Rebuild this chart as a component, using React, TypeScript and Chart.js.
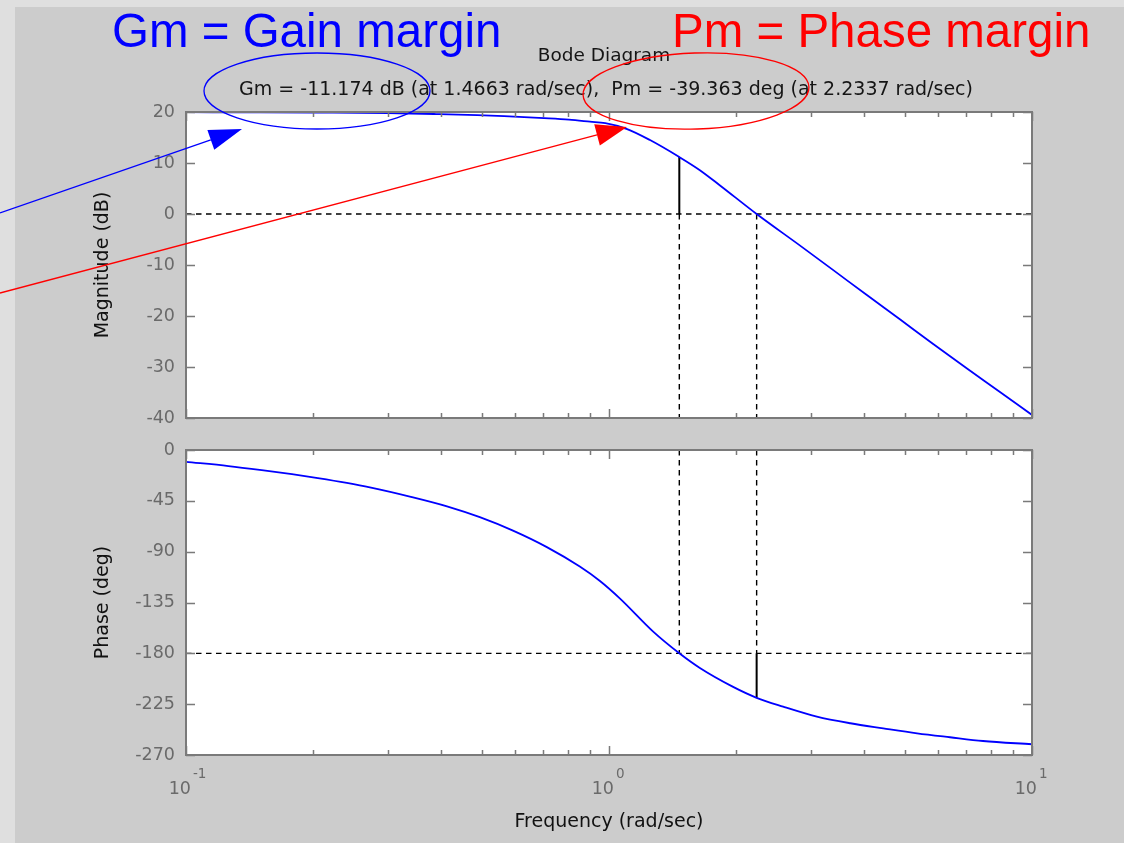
import React, { useEffect, useRef } from 'react';
import { Chart, registerables } from 'chart.js';

Chart.register(...registerables);

// ---------- data ----------
const magFreq = [0.1, 0.15, 0.2, 0.3, 0.39, 0.488, 0.565, 0.702, 0.804, 0.902, 0.98, 1.1, 1.25, 1.4663, 1.64, 1.83, 2.2337, 2.83, 3.39, 4.07, 4.88, 5.84, 7.02, 8.4, 10];
const magnitudeDb = [19.96, 19.93, 19.88, 19.78, 19.6, 19.4, 19.2, 18.8, 18.5, 18.1, 17.8, 16.7, 14.5, 11.174, 8.6, 5.6, 0, -6.2, -11.0, -15.9, -20.7, -25.5, -30.3, -34.9, -39.4];

const phaseFreq = [0.1, 0.126, 0.151, 0.178, 0.205, 0.24, 0.272, 0.342, 0.414, 0.495, 0.593, 0.713, 0.853, 0.952, 1.062, 1.27, 1.4663, 1.64, 1.96, 2.2337, 2.58, 3.1, 3.72, 4.45, 5.35, 6.4, 7.66, 10];
const phaseDeg = [-10.5, -14.2, -17.8, -21.4, -24.9, -29.2, -33.1, -41.7, -49.9, -59.5, -71.4, -86.0, -103.2, -116.0, -131.6, -160.6, -180, -193.0, -209.5, -219.36, -227.2, -236, -241.9, -246.4, -250.8, -254.3, -257.6, -260.5];

const gainMarginFreq = 1.4663;
const gainMarginDb = -11.174;
const phaseMarginFreq = 2.2337;
const phaseMarginDeg = -39.363;

const magAxis = { min: -40, max: 20, step: 10 };
const phaseAxis = { min: -270, max: 0, step: 45 };
const freqAxis = { min: 0.1, max: 10 };
const xMajorTicks = [0.1, 1, 10];
const xMajorExponents = ['-1', '0', '1'];
const xMinorTicks = [0.2, 0.3, 0.4, 0.5, 0.6, 0.7, 0.8, 0.9, 2, 3, 4, 5, 6, 7, 8, 9];

const plotTitle = 'Bode Diagram';
const marginText = 'Gm = -11.174 dB (at 1.4663 rad/sec),  Pm = -39.363 deg (at 2.2337 rad/sec)';
const gmHeadline = 'Gm = Gain margin';
const pmHeadline = 'Pm = Phase margin';

// ---------- styles ----------
const MFONT = '"DejaVu Sans", "Liberation Sans", sans-serif';
const TICK_COLOR = '#6a6a6a';
const FRAME_COLOR = '#7a7a7a';
const DASH = [5.5, 4.5];

const axesBoxPlugin = {
  id: 'axesBox',
  beforeDraw(chart: any) {
    const { ctx, chartArea: a } = chart;
    ctx.save();
    ctx.fillStyle = '#ffffff';
    ctx.fillRect(a.left, a.top, a.right - a.left, a.bottom - a.top);
    ctx.restore();
  },
  afterDatasetsDraw(chart: any) {
    const { ctx, chartArea: a, scales } = chart;
    ctx.save();
    ctx.strokeStyle = FRAME_COLOR;
    ctx.lineWidth = 1.5;
    ctx.beginPath();
    scales.y.ticks.forEach((t: any) => {
      const y = Math.round(scales.y.getPixelForValue(t.value)) + 0.5;
      ctx.moveTo(a.left, y); ctx.lineTo(a.left + 9, y);
      ctx.moveTo(a.right, y); ctx.lineTo(a.right - 9, y);
    });
    xMajorTicks.forEach((v) => {
      const x = Math.round(scales.x.getPixelForValue(v)) + 0.5;
      ctx.moveTo(x, a.top); ctx.lineTo(x, a.top + 9);
      ctx.moveTo(x, a.bottom); ctx.lineTo(x, a.bottom - 9);
    });
    xMinorTicks.forEach((v) => {
      const x = Math.round(scales.x.getPixelForValue(v)) + 0.5;
      ctx.moveTo(x, a.top); ctx.lineTo(x, a.top + 5);
      ctx.moveTo(x, a.bottom); ctx.lineTo(x, a.bottom - 5);
    });
    ctx.stroke();
    ctx.lineWidth = 2;
    ctx.strokeRect(a.left, a.top, a.right - a.left, a.bottom - a.top);
    ctx.restore();
  },
};

const freqLabelsPlugin = {
  id: 'freqLabels',
  afterDraw(chart: any) {
    const { ctx, chartArea: a, scales } = chart;
    ctx.save();
    ctx.fillStyle = TICK_COLOR;
    ctx.textBaseline = 'alphabetic';
    xMajorTicks.forEach((v, i) => {
      const x = scales.x.getPixelForValue(v);
      ctx.font = `17.5px ${MFONT}`;
      ctx.textAlign = 'right';
      ctx.fillText('10', x + 5, a.bottom + 39);
      ctx.font = `13.5px ${MFONT}`;
      ctx.textAlign = 'left';
      ctx.fillText(xMajorExponents[i], x + 7, a.bottom + 23);
    });
    ctx.restore();
  },
};

function arrow(ctx: CanvasRenderingContext2D, x0: number, y0: number, x1: number, y1: number, color: string, headLen: number, headHalf: number) {
  const dx = x1 - x0, dy = y1 - y0;
  const len = Math.hypot(dx, dy);
  const ux = dx / len, uy = dy / len;
  const nx = -uy, ny = ux;
  const bx = x1 - ux * headLen, by = y1 - uy * headLen;
  ctx.strokeStyle = color;
  ctx.fillStyle = color;
  ctx.lineWidth = 1.3;
  ctx.beginPath();
  ctx.moveTo(x0, y0);
  ctx.lineTo(bx, by);
  ctx.stroke();
  ctx.beginPath();
  ctx.moveTo(x1, y1);
  ctx.lineTo(bx + nx * headHalf, by + ny * headHalf);
  ctx.lineTo(bx - nx * headHalf, by - ny * headHalf);
  ctx.closePath();
  ctx.fill();
}

const annotationPlugin = {
  id: 'annotations',
  afterDraw(chart: any) {
    const { ctx } = chart;
    ctx.save();
    // headlines
    ctx.textBaseline = 'alphabetic';
    ctx.textAlign = 'left';
    ctx.font = '47.5px "Liberation Sans", Arial, sans-serif';
    ctx.fillStyle = '#0000ff';
    ctx.fillText(gmHeadline, 112, 46.5);
    ctx.fillStyle = '#ff0000';
    ctx.fillText(pmHeadline, 672, 46.5);
    // MATLAB titles
    ctx.fillStyle = '#151515';
    ctx.textAlign = 'center';
    ctx.font = `18.5px ${MFONT}`;
    ctx.fillText(plotTitle, 604, 61);
    ctx.font = `19px ${MFONT}`;
    ctx.fillText(marginText, 606, 95);
    // ellipses
    ctx.lineWidth = 1.3;
    ctx.strokeStyle = '#0000ff';
    ctx.beginPath();
    ctx.ellipse(317, 91, 113, 38, 0, 0, Math.PI * 2);
    ctx.stroke();
    ctx.strokeStyle = '#ff0000';
    ctx.beginPath();
    ctx.ellipse(696, 91, 113, 38, -0.035, 0, Math.PI * 2);
    ctx.stroke();
    // arrows
    arrow(ctx, 0, 213, 242, 129, '#0000ff', 33, 10.5);
    arrow(ctx, 0, 293, 627, 127, '#ff0000', 31, 11);
    ctx.restore();
  },
};

const pts = (xs: number[], ys: number[]) => xs.map((x, i) => ({ x, y: ys[i] }));

const dashed = (data: any[]) => ({ data, borderColor: '#000000', borderWidth: 1.4, borderDash: DASH, pointRadius: 0, tension: 0 });
const solid = (data: any[]) => ({ data, borderColor: '#000000', borderWidth: 2, pointRadius: 0, tension: 0 });

function yScale(axis: { min: number; max: number; step: number }, title: string) {
  return {
    type: 'linear',
    position: 'left',
    min: axis.min,
    max: axis.max,
    ticks: { stepSize: axis.step, autoSkip: false, color: TICK_COLOR, font: { family: MFONT, size: 17.5 }, padding: 11 },
    grid: { display: false, drawTicks: false },
    border: { display: false },
    title: { display: true, text: title, color: '#111111', font: { family: MFONT, size: 19 }, padding: { top: 91.6, bottom: 0 } },
    afterFit: (s: any) => { s.width = 186; },
  };
}

const TOP_H = 440;
const BOT_TOP = 425;
const BOT_H = 843 - BOT_TOP;

export default function App() {
  const topRef = useRef<HTMLCanvasElement>(null);
  const botRef = useRef<HTMLCanvasElement>(null);

  useEffect(() => {
    const phaseAtPm = -180 + phaseMarginDeg;
    const magAtGm = -gainMarginDb;

    const top = new Chart(topRef.current as HTMLCanvasElement, {
      type: 'line',
      data: {
        datasets: [
          { data: pts(magFreq, magnitudeDb), borderColor: '#0000ff', borderWidth: 1.8, pointRadius: 0, cubicInterpolationMode: 'monotone' } as any,
          solid([{ x: gainMarginFreq, y: magAtGm }, { x: gainMarginFreq, y: 0 }]),
          dashed([{ x: freqAxis.min, y: 0 }, { x: freqAxis.max, y: 0 }]),
          dashed([{ x: gainMarginFreq, y: 0 }, { x: gainMarginFreq, y: magAxis.min }]),
          dashed([{ x: phaseMarginFreq, y: 0 }, { x: phaseMarginFreq, y: magAxis.min }]),
        ],
      },
      options: {
        animation: false,
        responsive: false,
        maintainAspectRatio: false,
        events: [],
        layout: { padding: { left: 0, right: 92, top: 112, bottom: TOP_H - 418 } },
        plugins: { legend: { display: false }, tooltip: { enabled: false } },
        scales: {
          x: { type: 'logarithmic', min: freqAxis.min, max: freqAxis.max, display: false },
          y: yScale(magAxis, 'Magnitude (dB)') as any,
        },
      },
      plugins: [axesBoxPlugin, annotationPlugin],
    } as any);

    const bot = new Chart(botRef.current as HTMLCanvasElement, {
      type: 'line',
      data: {
        datasets: [
          { data: pts(phaseFreq, phaseDeg), borderColor: '#0000ff', borderWidth: 1.8, pointRadius: 0, cubicInterpolationMode: 'monotone' } as any,
          solid([{ x: phaseMarginFreq, y: -180 }, { x: phaseMarginFreq, y: phaseAtPm }]),
          dashed([{ x: freqAxis.min, y: -180 }, { x: freqAxis.max, y: -180 }]),
          dashed([{ x: gainMarginFreq, y: phaseAxis.max }, { x: gainMarginFreq, y: -180 }]),
          dashed([{ x: phaseMarginFreq, y: phaseAxis.max }, { x: phaseMarginFreq, y: -180 }]),
        ],
      },
      options: {
        animation: false,
        responsive: false,
        maintainAspectRatio: false,
        events: [],
        layout: { padding: { left: 0, right: 92, top: 450 - BOT_TOP, bottom: 0 } },
        plugins: { legend: { display: false }, tooltip: { enabled: false } },
        scales: {
          x: {
            type: 'logarithmic',
            position: 'bottom',
            min: freqAxis.min,
            max: freqAxis.max,
            ticks: { display: false },
            grid: { display: false, drawTicks: false },
            border: { display: false },
            title: { display: true, text: 'Frequency (rad/sec)', color: '#111111', font: { family: MFONT, size: 19 }, padding: { top: 0, bottom: 9.6 } },
            afterFit: (s: any) => { s.height = 843 - 755; },
          },
          y: yScale(phaseAxis, 'Phase (deg)') as any,
        },
      },
      plugins: [axesBoxPlugin, freqLabelsPlugin],
    } as any);

    return () => { top.destroy(); bot.destroy(); };
  }, []);

  return (
    <div style={{ position: 'fixed', left: 0, top: 0, width: 1124, height: 843, background: '#dfdfdf', overflow: 'hidden' }}>
      <div style={{ position: 'absolute', left: 15, top: 7, right: 0, bottom: 0, background: '#cccccc' }} />
      <canvas ref={botRef} width={1124} height={BOT_H} style={{ position: 'absolute', left: 0, top: BOT_TOP, width: 1124, height: BOT_H }} />
      <canvas ref={topRef} width={1124} height={TOP_H} style={{ position: 'absolute', left: 0, top: 0, width: 1124, height: TOP_H }} />
    </div>
  );
}
